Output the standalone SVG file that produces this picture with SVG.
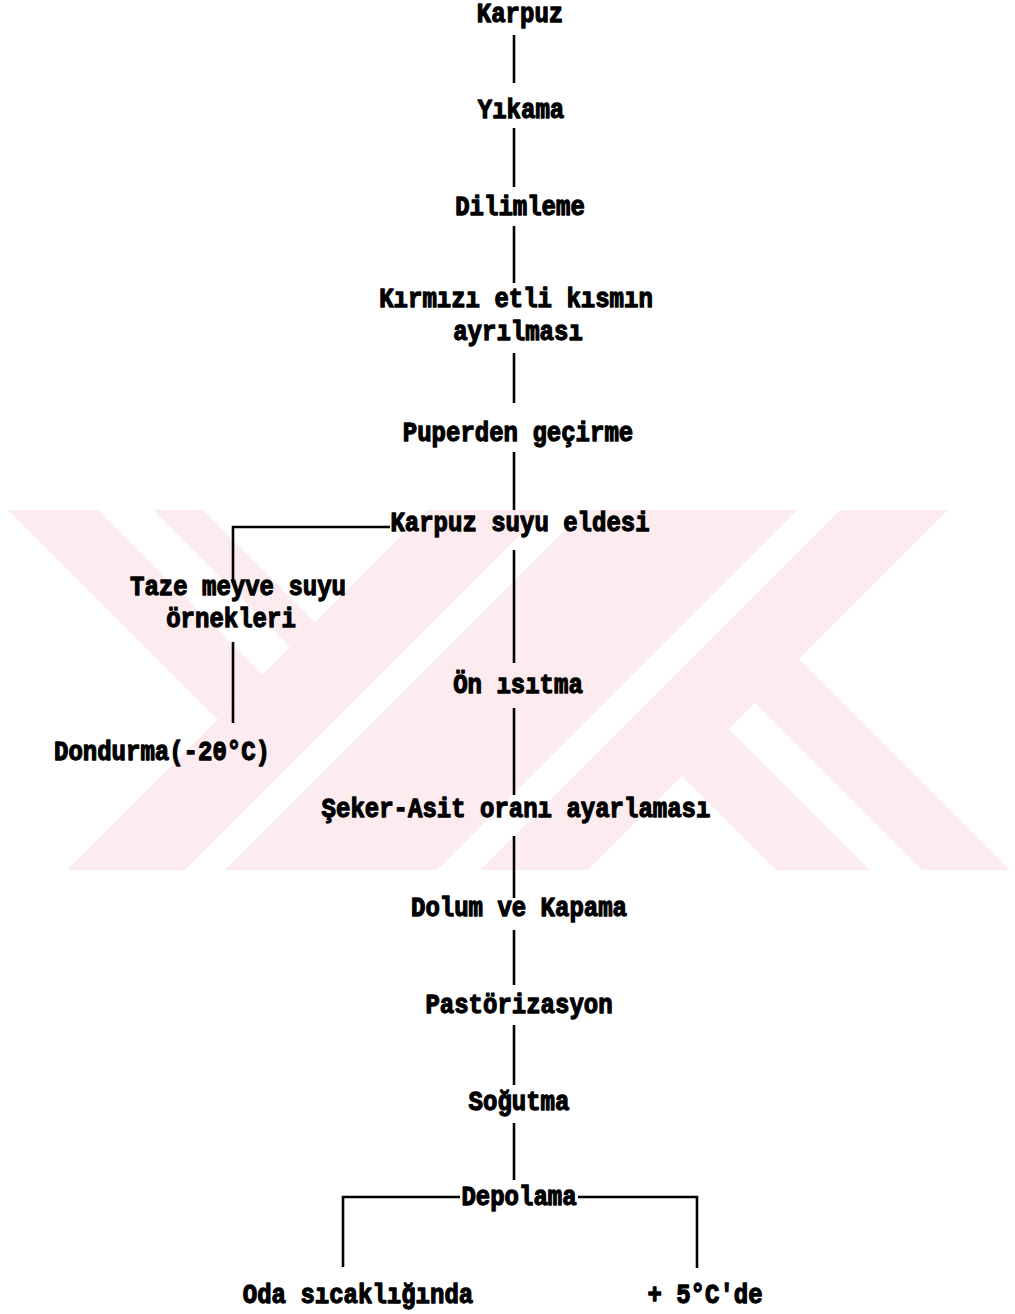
<svg xmlns="http://www.w3.org/2000/svg" width="1015" height="1314" viewBox="0 0 1015 1314">
<style>
.t{font-family:"Liberation Mono","Courier New",monospace;font-weight:bold;font-size:24px;fill:#000;stroke:#000;stroke-width:1.1;stroke-linejoin:round;text-anchor:middle}
.c{stroke:#000;stroke-width:2.6;fill:none;stroke-linecap:butt}
.w{fill:#fdecef}
</style>
<rect width="1015" height="1314" fill="#fff"/>
<g id="watermark">
<polygon class="w" points="8,510 98,510 262.5,674.5 217.5,719.5"/>
<polygon class="w" points="153,510 203,510 315,622 290,647"/>
<polygon class="w" points="427,510 545,510 185,870 67,870"/>
<polygon class="w" points="585,510 797,510 437,870 225,870"/>
<polygon class="w" points="840,510 948,510 588,870 480,870"/>
<polygon class="w" points="799,659 1010,870 922,870 755,703"/>
<polygon class="w" points="729,729 870,870 776,870 682,776"/>
</g>
<g id="connectors">
<line class="c" x1="514" y1="35" x2="514" y2="83"/>
<line class="c" x1="514" y1="128" x2="514" y2="187"/>
<line class="c" x1="514" y1="226" x2="514" y2="283"/>
<line class="c" x1="514" y1="353" x2="514" y2="403"/>
<line class="c" x1="514" y1="452" x2="514" y2="510"/>
<line class="c" x1="514" y1="550" x2="514" y2="663"/>
<line class="c" x1="514" y1="708" x2="514" y2="795"/>
<line class="c" x1="514" y1="836" x2="514" y2="898"/>
<line class="c" x1="514" y1="930" x2="514" y2="985"/>
<line class="c" x1="514" y1="1025" x2="514" y2="1085"/>
<line class="c" x1="514" y1="1123" x2="514" y2="1180"/>
<polyline class="c" points="390,527 233,527 233,582"/>
<line class="c" x1="233" y1="642" x2="233" y2="723"/>
<polyline class="c" points="460,1197 343,1197 343,1267"/>
<polyline class="c" points="578,1197 697,1197 697,1268"/>
</g>
<g id="n-karpuz"><text class="t" transform="translate(520 22) scale(1 1.15)">Karpuz</text></g>
<g id="n-yikama"><text class="t" transform="translate(521 118) scale(1 1.15)">Yıkama</text></g>
<g id="n-dilimleme"><text class="t" transform="translate(520 215) scale(1 1.15)">Dilimleme</text></g>
<g id="n-kirmizi"><text class="t" transform="translate(516 307) scale(1 1.15)">Kırmızı etli kısmın</text><text class="t" transform="translate(518 340) scale(1 1.15)">ayrılması</text></g>
<g id="n-puperden"><text class="t" transform="translate(518 441) scale(1 1.15)">Puperden geçirme</text></g>
<g id="n-karpuzsuyu"><text class="t" transform="translate(520 531) scale(1 1.15)">Karpuz suyu eldesi</text></g>
<g id="n-taze"><text class="t" transform="translate(238 595) scale(1 1.15)">Taze meyve suyu</text><text class="t" transform="translate(231 627) scale(1 1.15)">örnekleri</text></g>
<g id="n-dondurma"><text class="t" transform="translate(162 760) scale(1 1.15)">Dondurma(-20°C)</text></g>
<g id="n-onisitma"><text class="t" transform="translate(518 693) scale(1 1.15)">Ön ısıtma</text></g>
<g id="n-seker"><text class="t" transform="translate(516 817) scale(1 1.15)">Şeker-Asit oranı ayarlaması</text></g>
<g id="n-dolum"><text class="t" transform="translate(519 916) scale(1 1.15)">Dolum ve Kapama</text></g>
<g id="n-pastorizasyon"><text class="t" transform="translate(519 1013) scale(1 1.15)">Pastörizasyon</text></g>
<g id="n-sogutma"><text class="t" transform="translate(519 1110) scale(1 1.15)">Soğutma</text></g>
<g id="n-depolama"><text class="t" transform="translate(519 1205) scale(1 1.15)">Depolama</text></g>
<g id="n-oda"><text class="t" transform="translate(358 1303) scale(1 1.15)">Oda sıcaklığında</text></g>
<g id="n-5c"><text class="t" transform="translate(705 1303) scale(1 1.15)">+ 5°C'de</text></g>
</svg>
